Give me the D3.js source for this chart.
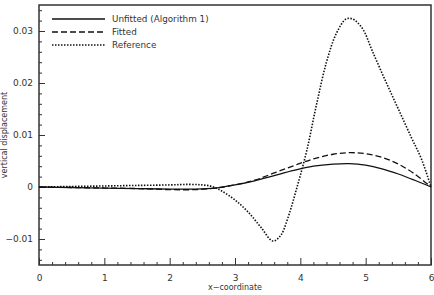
<!DOCTYPE html>
<html>
<head>
<meta charset="utf-8">
<script src="https://cdn.jsdelivr.net/npm/d3@7"></script>
<style>
  body { margin: 0; background: #fff; }
  text { font-family: "DejaVu Sans", sans-serif; fill: #333; }
</style>
</head>
<body>
<div id="chart"></div>
<script>
let margin = { top: 5, right: 3, bottom: 30, left: 39 },
    width = 434,
    height = 295;

// series
let unfittedX = [0, 0.5, 1, 1.5, 2, 2.4, 2.7, 3, 3.3, 3.6, 3.9, 4.2, 4.5, 4.75, 5, 5.25, 5.5, 5.75, 6];
let unfittedY = [0, -0.0001, -0.0002, -0.0003, -0.0004, -0.0004, -0.0002, 0.0004, 0.0012, 0.0022, 0.0032, 0.0040, 0.0044, 0.0045, 0.0042, 0.0035, 0.0025, 0.0013, 0];

let fittedX = [0, 0.5, 1, 1.5, 2, 2.4, 2.7, 3, 3.3, 3.6, 3.9, 4.2, 4.5, 4.75, 5, 5.25, 5.5, 5.75, 6];
let fittedY = [0, -0.0001, -0.0002, -0.0003, -0.0005, -0.0005, -0.0002, 0.0004, 0.0013, 0.0027, 0.0041, 0.0054, 0.0063, 0.0066, 0.0064, 0.0057, 0.0044, 0.0025, 0];

let referenceX = [0, 0.5, 1, 1.5, 2, 2.3, 2.5, 2.65, 2.8, 3.0, 3.2, 3.4, 3.58, 3.7, 3.8, 3.95, 4.1, 4.25, 4.4, 4.55, 4.7, 4.8, 4.95, 5.1, 5.3, 5.5, 5.7, 5.85, 6];
let referenceY = [0, 0.0001, 0.0002, 0.0003, 0.0004, 0.0005, 0.0004, 0.0001, -0.0008, -0.0025, -0.0048, -0.0078, -0.0104, -0.0093, -0.0063, 0.0, 0.0071, 0.0160, 0.0240, 0.0295, 0.0323, 0.0323, 0.0305, 0.0262, 0.0205, 0.0150, 0.0095, 0.0055, 0];

let xTicks = [0, 1, 2, 3, 4, 5, 6];
let yTicks = [-0.01, 0, 0.01, 0.02, 0.03];
let yTickLabels = ["\u22120.01", "0", "0.01", "0.02", "0.03"];

let seriesNames = ["Unfitted (Algorithm 1)", "Fitted", "Reference"];
let seriesDash = ["none", "6,3", "1.5,1.5"];

let svg = d3.select("#chart")
    .append("svg")
    .attr("width", width)
    .attr("height", height);

let x = d3.scaleLinear().domain([0, 6]).range([margin.left, width - margin.right]);
let y = d3.scaleLinear().domain([-0.015, 0.035]).range([height - margin.bottom, margin.top]);

// minor ticks
let xMinor = d3.range(0, 6.001, 0.2).filter(v => Math.abs(v - Math.round(v)) > 0.01);
let yMinor = d3.range(-0.014, 0.0345, 0.002).filter(v => Math.abs(v * 100 - Math.round(v * 100)) > 0.01);

let gx = svg.append("g")
    .attr("transform", "translate(0," + y.range()[0] + ")");
gx.call(d3.axisBottom(x).tickValues(xTicks).tickSize(-7).tickPadding(10).tickFormat(d3.format("d")));
gx.append("g").call(d3.axisBottom(x).tickValues(xMinor).tickSize(-3).tickFormat(""));

let gy = svg.append("g")
    .attr("transform", "translate(" + x.range()[0] + ",0)");
gy.call(d3.axisLeft(y).tickValues(yTicks).tickSize(-6).tickPadding(6).tickFormat((d, i) => yTickLabels[i]));
gy.append("g").call(d3.axisLeft(y).tickValues(yMinor).tickSize(-3).tickFormat(""));

svg.selectAll(".domain").remove();
svg.selectAll(".tick line").attr("stroke", "#333").attr("stroke-width", 1);
svg.selectAll(".tick text").style("font-size", "9px").attr("fill", "#333");

// frame
svg.append("rect")
    .attr("x", x(0))
    .attr("y", y(0.035))
    .attr("width", x(6) - x(0))
    .attr("height", y(-0.015) - y(0.035))
    .attr("fill", "none")
    .attr("stroke", "#333")
    .attr("stroke-width", 1.5);

let line = d3.line()
    .x(d => x(d[0]))
    .y(d => y(d[1]))
    .curve(d3.curveCatmullRom.alpha(0.5));

let series = [
    d3.zip(unfittedX, unfittedY),
    d3.zip(fittedX, fittedY),
    d3.zip(referenceX, referenceY)
];

series.forEach(function (s, i) {
    svg.append("path")
        .datum(s)
        .attr("d", line)
        .attr("fill", "none")
        .attr("stroke", "#111")
        .attr("stroke-width", i == 2 ? 1.6 : 1.3)
        .attr("stroke-dasharray", seriesDash[i]);
});

// legend
seriesNames.forEach(function (name, i) {
    let ly = 19 + i * 13;
    svg.append("line")
        .attr("x1", 52).attr("x2", 105)
        .attr("y1", ly).attr("y2", ly)
        .attr("stroke", "#111")
        .attr("stroke-width", i == 2 ? 1.6 : 1.3)
        .attr("stroke-dasharray", seriesDash[i]);
    svg.append("text")
        .attr("x", 112)
        .attr("y", ly)
        .attr("dy", "0.35em")
        .style("font-size", "8.8px")
        .text(name);
});

// axis titles
svg.append("text")
    .attr("x", (x(0) + x(6)) / 2)
    .attr("y", 290)
    .attr("text-anchor", "middle")
    .style("font-size", "8px")
    .text("x\u2212coordinate");

svg.append("text")
    .attr("transform", "translate(7," + ((y(-0.015) + y(0.035)) / 2) + ") rotate(-90)")
    .attr("text-anchor", "middle")
    .style("font-size", "8px")
    .text("vertical displacement");
</script>
</body>
</html>
